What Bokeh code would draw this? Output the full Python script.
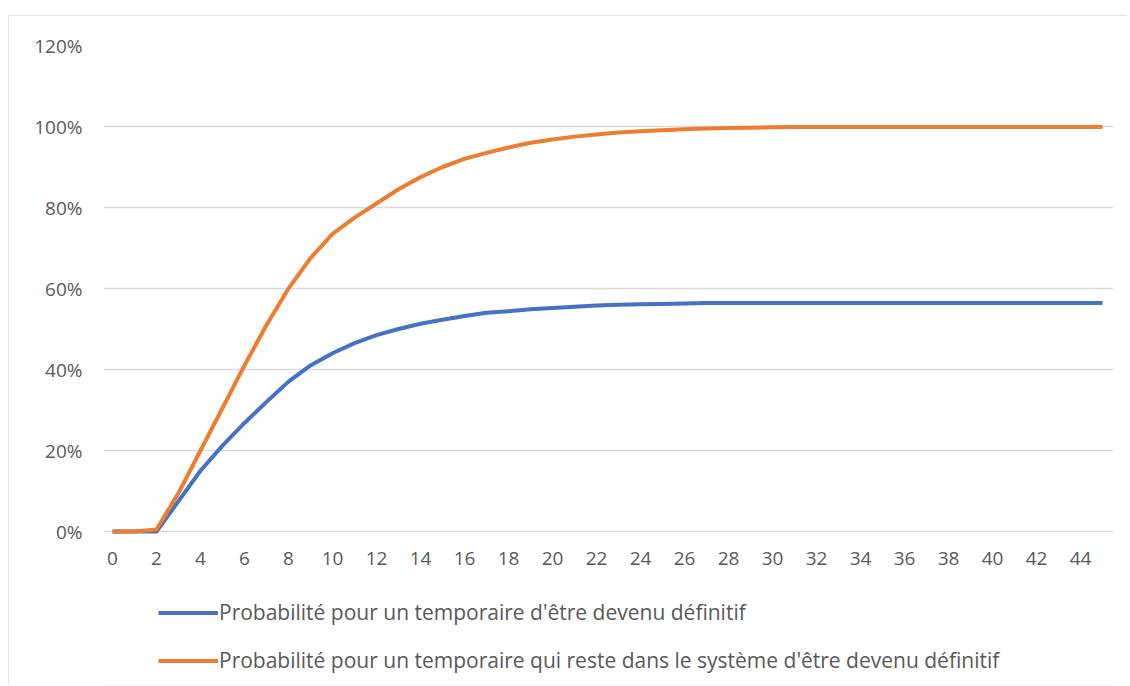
from bokeh.plotting import figure
from bokeh.models import (FixedTicker, NumeralTickFormatter, Legend, LegendItem, Range1d)
from bokeh.embed import file_html
from bokeh.resources import INLINE

years = list(range(0, 46))
blue = [0, 0, 0, 7.5, 15, 21.2, 26.8, 32, 37, 41, 44, 46.5, 48.5, 50, 51.3, 52.3,
        53.2, 54, 54.4, 54.9, 55.2, 55.5, 55.8, 56, 56.1, 56.2, 56.3, 56.4, 56.4,
        56.4, 56.4, 56.4, 56.4, 56.4, 56.4, 56.4, 56.4, 56.4, 56.4, 56.4, 56.4,
        56.4, 56.4, 56.4, 56.4, 56.4]
orange = [0, 0, 0.5, 9.5, 20, 30.5, 41, 51, 60, 67.5, 73.5, 77.5, 81, 84.5, 87.5,
          90, 92, 93.5, 94.8, 96, 96.8, 97.5, 98, 98.5, 98.8, 99.1, 99.3, 99.5,
          99.6, 99.7, 99.8, 99.85, 99.9, 99.9, 99.9, 99.9, 99.9, 99.9, 99.9, 99.9,
          99.9, 99.9, 99.9, 99.9, 99.9, 99.9]
label_blue = "Probabilité pour un temporaire d'être devenu définitif"
label_orange = "Probabilité pour un temporaire qui reste dans le système d'être devenu définitif"
y_ticks = [0, 0.2, 0.4, 0.6, 0.8, 1.0, 1.2]
x_ticks = list(range(0, 45, 2))

W, H = 1119, 670
p = figure(width=W, height=H, output_backend="svg", toolbar_location=None,
           x_range=Range1d(-0.41, 45.5), y_range=Range1d(-153 / 405, 1.2),
           min_border_left=95, min_border_right=14, min_border_top=30,
           min_border_bottom=1)
p.outline_line_color = None
p.background_fill_color = "white"
p.border_fill_color = "white"
p.styles = {"margin-left": "8px", "margin-top": "15px",
            "outline": "1px solid #d9d9d9", "outline-offset": "-1px"}

gray = "#d9d9d9"
txt = "#595959"
font = "Open Sans"

p.xgrid.visible = False
p.ygrid.grid_line_color = gray
p.ygrid.grid_line_width = 1.5
p.ygrid.ticker = FixedTicker(ticks=y_ticks)

p.yaxis.ticker = FixedTicker(ticks=y_ticks)
p.yaxis.formatter = NumeralTickFormatter(format="0%")
p.xaxis.ticker = FixedTicker(ticks=x_ticks)
p.xaxis.fixed_location = 0
for ax in (p.xaxis, p.yaxis):
    ax.axis_line_color = None
    ax.major_tick_line_color = None
    ax.minor_tick_line_color = None
    ax.major_tick_out = 0
    ax.major_tick_in = 0
    ax.major_label_text_color = txt
    ax.major_label_text_font = font
    ax.major_label_text_font_size = "19px"
p.yaxis.major_label_standoff = 21
p.xaxis.major_label_standoff = 20

ys_blue = [v / 100 for v in blue]
ys_orange = [v / 100 for v in orange]
r1 = p.line(years, ys_blue, line_color="#4472C4", line_width=4, line_join="round")
r2 = p.line(years, ys_orange, line_color="#ED7D31", line_width=4, line_join="round")

legend = Legend(items=[LegendItem(label=label_blue, renderers=[r1]),
                       LegendItem(label=label_orange, renderers=[r2])],
                location=(55, 10), orientation="vertical",
                glyph_width=60, glyph_height=27, label_height=27,
                label_standoff=1, spacing=20, padding=0, margin=0,
                border_line_color=None, background_fill_alpha=0,
                label_text_font=font, label_text_font_size="21px",
                label_text_color=txt)
p.add_layout(legend, "center")

open("out.html", "w").write(file_html(p, INLINE))
